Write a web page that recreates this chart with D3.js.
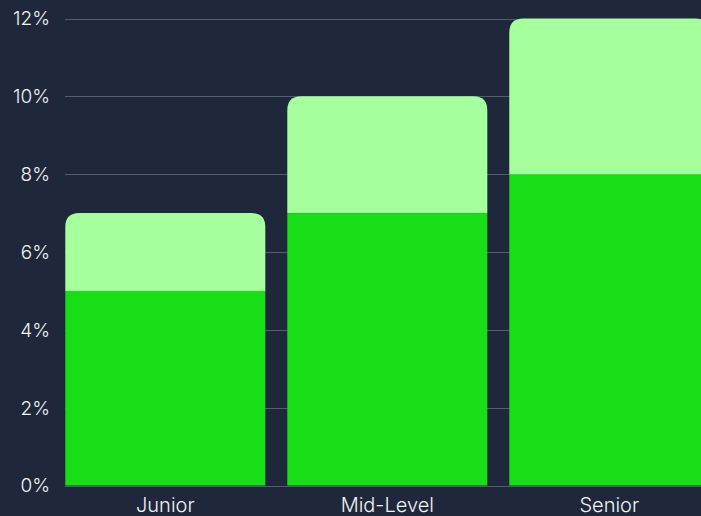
<!DOCTYPE html>
<html>
<head>
    <script src="https://d3js.org/d3.v7.min.js"></script>
    <style>
        body {
            margin: 0;
            background: #1f283b;
            overflow: hidden;
        }
        svg { display: block; }
        .tick-label {
            fill: #f2f2f2;
            font-family: Inter, "Noto Sans", sans-serif;
            font-weight: 300;
            font-size: 19px;
        }
        .grid {
            stroke: #555d6d;
            stroke-width: 1;
        }
    </style>
</head>
<body>
    <svg id="chart" width="701" height="516"></svg>
    <script>
        // data
        const categories = ["Junior", "Mid-Level", "Senior"];
        const baseValues = [5, 7, 8];
        const topValues = [2, 3, 4];
        const yTicks = [0, 2, 4, 6, 8, 10, 12];

        const svg = d3.select("#chart");
        const W = 701, H = 516;

        const x = d3.scaleBand()
            .domain(categories)
            .range([65.3, 709.3])
            .paddingInner(0.099)
            .paddingOuter(0);

        const y = d3.scaleLinear()
            .domain([0, 12])
            .range([485.5, 18.5]);

        // grid lines
        svg.selectAll(".grid")
            .data(yTicks)
            .enter()
            .append("line")
            .attr("class", "grid")
            .attr("x1", 65)
            .attr("x2", W)
            .attr("y1", d => Math.round(y(d)) + 0.5)
            .attr("y2", d => Math.round(y(d)) + 0.5);

        // y tick labels
        svg.selectAll(".ylab")
            .data(yTicks)
            .enter()
            .append("text")
            .attr("class", "tick-label")
            .attr("x", 50)
            .attr("y", d => y(d))
            .attr("dy", "0.36em")
            .attr("text-anchor", "end")
            .text(d => d + "%");

        // bottom segments
        svg.selectAll(".base")
            .data(categories)
            .enter()
            .append("rect")
            .attr("x", d => x(d))
            .attr("width", x.bandwidth())
            .attr("y", (d, i) => y(baseValues[i]))
            .attr("height", (d, i) => y(0) - y(baseValues[i]))
            .attr("fill", "#17de17");

        // top segments with rounded top corners
        const r = 14;
        function topPath(d, i) {
            const x0 = x(d), x1 = x(d) + x.bandwidth();
            const yb = y(baseValues[i]);
            const yt = y(baseValues[i] + topValues[i]);
            return `M${x0},${yb} L${x0},${yt + r} Q${x0},${yt} ${x0 + r},${yt} ` +
                   `L${x1 - r},${yt} Q${x1},${yt} ${x1},${yt + r} L${x1},${yb} Z`;
        }
        svg.selectAll(".top")
            .data(categories)
            .enter()
            .append("path")
            .attr("d", topPath)
            .attr("fill", "#a6ff9d");

        // category labels
        svg.selectAll(".xlab")
            .data(categories)
            .enter()
            .append("text")
            .attr("class", "tick-label")
            .attr("x", d => x(d) + x.bandwidth() / 2)
            .attr("y", 512)
            .attr("text-anchor", "middle")
            .style("font-size", "20px")
            .text(d => d);
    </script>
</body>
</html>
